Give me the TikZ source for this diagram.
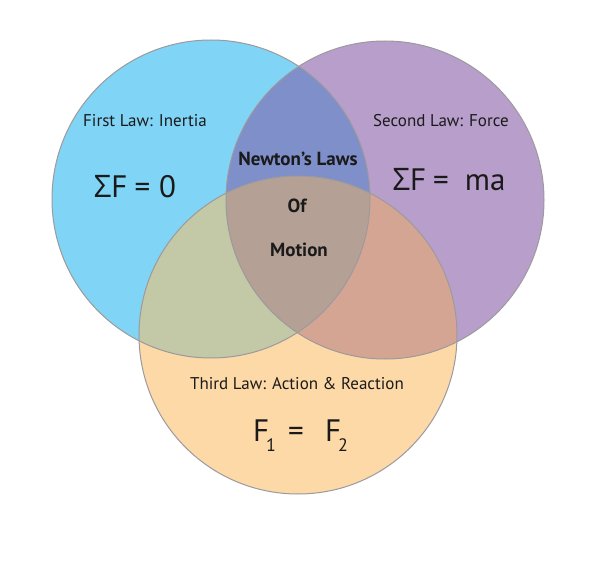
\documentclass[tikz,border=0pt]{standalone}
\usepackage{fontspec}
\setmainfont{PT Sans}
\newfontfamily\grk{Open Sans}
\definecolor{cblue}{HTML}{80D4F6}
\definecolor{cpurple}{HTML}{B89ECB}
\definecolor{corange}{HTML}{FDD9A7}
\definecolor{cbp}{HTML}{7E8FCA}
\definecolor{cbo}{HTML}{C3C8A7}
\definecolor{cpo}{HTML}{D4A593}
\definecolor{ccenter}{HTML}{B5A096}
\definecolor{cedge}{HTML}{9C9A9C}
\definecolor{ctext}{HTML}{1A1A1A}
\tikzset{
  lawlabel/.style={text=ctext, font=\fontsize{17}{20}\selectfont, inner sep=0pt, anchor=base},
  formula/.style={text=ctext, font=\fontsize{31}{34}\selectfont, inner sep=0pt, anchor=base},
  titletext/.style={text=ctext, font=\bfseries\fontsize{19}{22}\selectfont, inner sep=0pt, anchor=base},
  rim/.style={draw=cedge, line width=1pt}
}
\newcommand{\subdigit}[1]{\kern-3pt\raisebox{-10pt}{\fontsize{18}{18}\selectfont #1}}
\begin{document}
\begin{tikzpicture}[x=1pt,y=-1pt]
\useasboundingbox[fill=white] (0,0) rectangle (600,575);
\coordinate (B) at (211,199);
\coordinate (P) at (385,200);
\coordinate (O) at (298,335);
\def\R{159}
% base discs
\fill[cblue] (B) circle[radius=\R];
\fill[cpurple] (P) circle[radius=\R];
\fill[corange] (O) circle[radius=\R];
% pairwise overlaps
\begin{scope}\clip (B) circle[radius=\R]; \fill[cbp] (P) circle[radius=\R];\end{scope}
\begin{scope}\clip (B) circle[radius=\R]; \fill[cbo] (O) circle[radius=\R];\end{scope}
\begin{scope}\clip (P) circle[radius=\R]; \fill[cpo] (O) circle[radius=\R];\end{scope}
\begin{scope}\clip (B) circle[radius=\R]; \clip (P) circle[radius=\R]; \fill[ccenter] (O) circle[radius=\R];\end{scope}
% outlines
\draw[rim] (B) circle[radius=\R];
\draw[rim] (P) circle[radius=\R];
\draw[rim] (O) circle[radius=\R];
% texts
\node[lawlabel] (first) at (145,127) {First Law: Inertia};
\node[formula] (firstf) at (135,197) {{\grk Σ}F\kern7pt=\kern9pt0};
\node[lawlabel] (second) at (441,127) {Second Law: Force};
\node[formula] (secondf) at (449,190) {{\grk Σ}F\kern7pt=\kern16pt ma};
\node[titletext] (t1) at (298,166) {Newton’s Laws};
\node[titletext] (t2) at (297,212) {Of};
\node[titletext] (t3) at (299,256) {Motion};
\node[lawlabel] (third) at (297,389) {Third Law: Action \& Reaction};
\node[formula, anchor=base west] (f1) at (253,441) {F\subdigit{1}};
\node[formula, anchor=base west] (eq) at (288,441) {=};
\node[formula, anchor=base west] (f2) at (325,441) {F\subdigit{2}};
\end{tikzpicture}
\end{document}
